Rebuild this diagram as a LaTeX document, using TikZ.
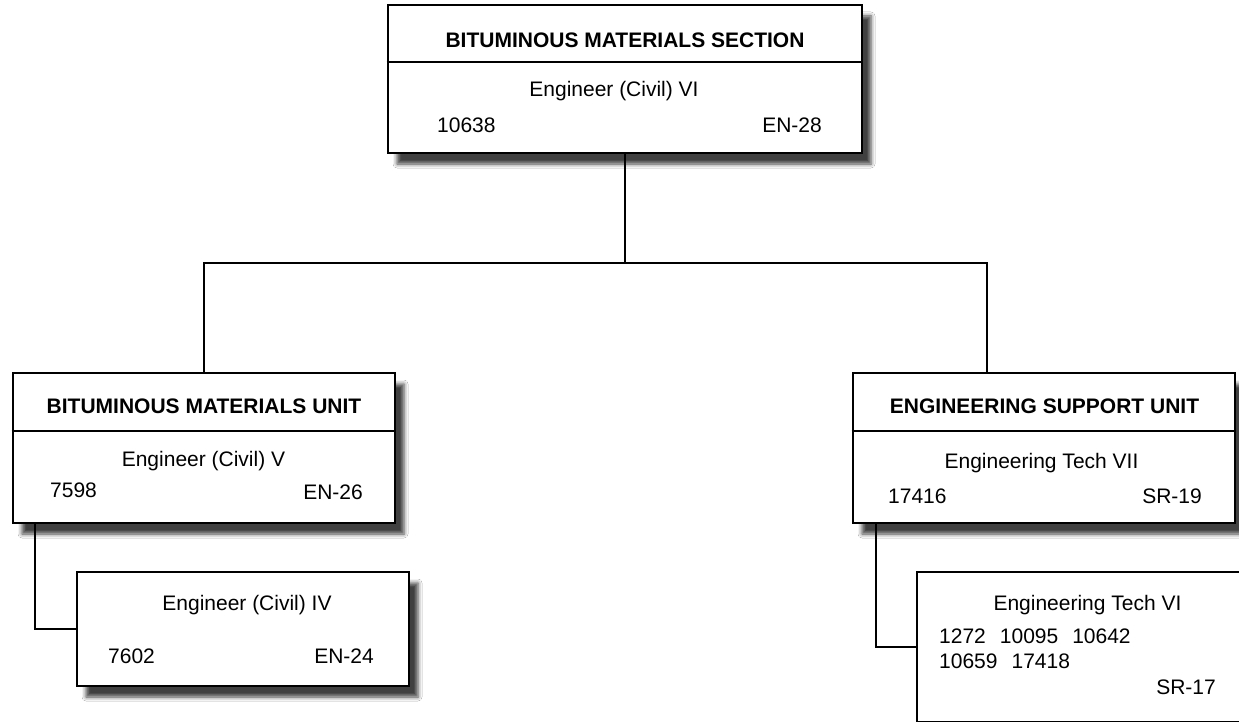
\documentclass[tikz,border=0pt]{standalone}
\usepackage{fontspec}
\setmainfont{Liberation Sans}
\usetikzlibrary{shadows.blur}
\newcommand{\chartfont}{\fontsize{21}{25}\selectfont}

\begin{document}
\begin{tikzpicture}[x=1pt, y=-1pt,
  every node/.style={font=\chartfont},
  orgbox/.style={draw, line width=2.6pt, fill=white, rectangle, inner sep=0pt,
    blur shadow={shadow xshift=9pt, shadow yshift=-11pt, shadow blur radius=4pt, shadow opacity=75}},
  boxtitle/.style={font=\chartfont\bfseries, inner sep=0pt, anchor=base},
  boxtext/.style={inner sep=0pt},
  link/.style={line width=1.8pt}]

  \clip (0,0) rectangle (1239,722);
  \fill[white] (0,0) rectangle (1239,722);

  % ========== Section box ==========
  \node[orgbox, minimum width=474pt, minimum height=148pt] (secbox) at (625,79) {};
  \draw[link] (secbox.west |- 0,62) -- (secbox.east |- 0,62);
  \node[boxtitle] (sectitle) at (625,48) {BITUMINOUS MATERIALS SECTION};
  \node[boxtext, anchor=base] (secjob) at (614,97) {Engineer (Civil) VI};
  \node[boxtext, anchor=base west] (secnum) at (437,133) {10638};
  \node[boxtext, anchor=base east] (secgrade) at (822,133) {EN-28};

  % ========== Bituminous materials unit ==========
  \node[orgbox, minimum width=382pt, minimum height=150pt] (bmubox) at (204,448) {};
  \draw[link] (bmubox.west |- 0,431) -- (bmubox.east |- 0,431);
  \node[boxtitle] (bmutitle) at (204,413) {BITUMINOUS MATERIALS UNIT};
  \node[boxtext, anchor=base] (bmujob) at (203.5,466) {Engineer (Civil) V};
  \node[boxtext, anchor=base west] (bmunum) at (50,497) {7598};
  \node[boxtext, anchor=base east] (bmugrade) at (363,499) {EN-26};

  % --- Engineer (Civil) IV ---
  \node[orgbox, minimum width=332pt, minimum height=114pt] (ec4box) at (243,629) {};
  \node[boxtext, anchor=base] (ec4job) at (247,610) {Engineer (Civil) IV};
  \node[boxtext, anchor=base west] (ec4num) at (108,663) {7602};
  \node[boxtext, anchor=base east] (ec4grade) at (374,663) {EN-24};

  % ========== Engineering support unit ==========
  \node[orgbox, minimum width=382pt, minimum height=150pt] (esubox) at (1044,448) {};
  \draw[link] (esubox.west |- 0,431) -- (esubox.east |- 0,431);
  \node[boxtitle] (esutitle) at (1044.5,413) {ENGINEERING SUPPORT UNIT};
  \node[boxtext, anchor=base] (esujob) at (1041.5,468) {Engineering Tech VII};
  \node[boxtext, anchor=base west] (esunum) at (888,503) {17416};
  \node[boxtext, anchor=base east] (esugrade) at (1202,503) {SR-19};

  % --- Engineering Tech VI ---
  \node[orgbox, minimum width=333pt, minimum height=150pt] (et6box) at (1083.5,647) {};
  \node[boxtext, anchor=base] (et6job) at (1087.5,610) {Engineering Tech VI};
  \node[boxtext, anchor=base west] (et6numa) at (939,643) {1272\hspace{14pt}10095\hspace{14pt}10642};
  \node[boxtext, anchor=base west] (et6numb) at (939,668) {10659\hspace{14pt}17418};
  \node[boxtext, anchor=base east] (et6grade) at (1216,694) {SR-17};

  % ========== Connectors ==========
  \coordinate (branch) at (secbox.south |- 0,263);
  \coordinate (esutop) at (esubox.north -| 987,0);
  \coordinate (bmutap) at (bmubox.south -| 35,0);
  \coordinate (esutap) at (esubox.south -| 876,0);
  \draw[link] (secbox.south) -- (branch);
  \draw[link] (bmubox.north) |- (branch) -| (esutop);
  \draw[link] (bmutap) |- (ec4box.west);
  \draw[link] (esutap) |- (et6box.west);

\end{tikzpicture}
\end{document}
